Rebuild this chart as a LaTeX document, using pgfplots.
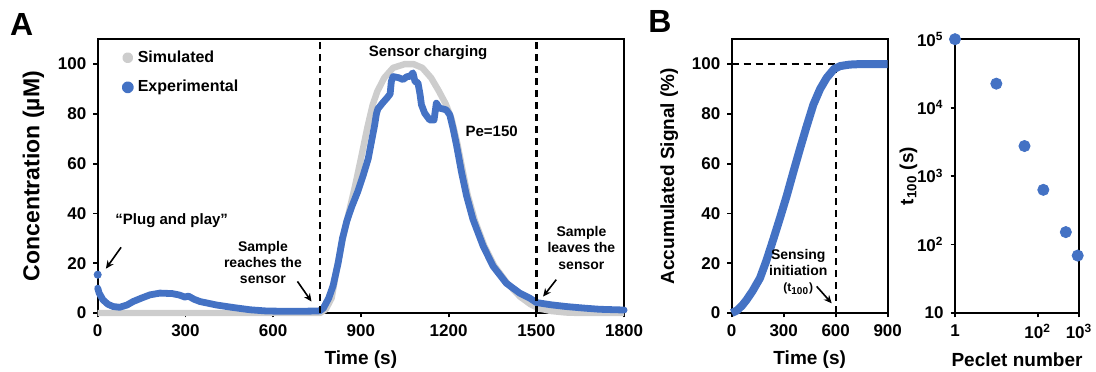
\documentclass[border=0pt]{standalone}
\usepackage{fontspec}
\setmainfont{Liberation Sans}
\usepackage{pgfplots}
\pgfplotsset{compat=1.18}
\usetikzlibrary{arrows.meta}
\definecolor{expblue}{RGB}{68,114,196}
\definecolor{simgray}{RGB}{205,205,205}
\tikzset{ann/.style={font=\bfseries\fontsize{7}{8.2}\selectfont, inner sep=0pt},
 darr/.style={-{Stealth[length=4pt,width=3.6pt]}, line width=0.8pt, black},
 vdash/.style={black, line width=1.2pt, dash pattern=on 3.5pt off 2.5pt}}
\pgfplotsset{
 myax/.style={scale only axis, anchor=south west,
  axis line style={line width=1pt, black},
  tick style={line width=0.9pt, black},
  tick align=outside, major tick length=2.2pt,
  xtick pos=bottom, ytick pos=left, clip=false,
  /pgf/number format/assume math mode=true,
  /pgf/number format/1000 sep={},
  tick label style={font=\bfseries\fontsize{8.5}{10}\selectfont},
  label style={font=\bfseries\fontsize{9.5}{11}\selectfont},
 },
}
\begin{document}
\begin{tikzpicture}
\useasboundingbox (0,0) rectangle (548pt,185.5pt);
% panel labels
\node[font=\bfseries\fontsize{16}{18}\selectfont] at (10.8pt,173.2pt) {A};
\node[font=\bfseries\fontsize{16}{18}\selectfont] at (330pt,174.6pt) {B};
% ---------------- Panel A ----------------
\begin{axis}[myax, at={(48.85pt,29pt)}, width=263.2pt, height=136.9pt,
  xmin=0, xmax=1800, ymin=0, ymax=110,
  xtick={0,300,...,1800}, ytick={0,20,...,100},
  xlabel={Time (s)}, ylabel={Concentration (µM)},
  ylabel style={font=\bfseries\fontsize{11.5}{13}\selectfont},
  legend style={at={(rel axis cs:0.045,0.975)}, anchor=north west, draw=none, fill=none,
    font=\bfseries\fontsize{8}{9.5}\selectfont, row sep=3.5pt, inner sep=0pt},
  legend cell align=left,
  ]
\addplot[simgray, line width=3.2pt, line join=round,
  legend image code/.code={\fill[simgray] (0pt,0pt) circle (1.1pt);}] coordinates {
(0,0)(760,0)(780,1.5)(800,6)(818,18)(840,31)(860,41)(880,51)(900,62)(922,74.5)(940,83.5)(956,89)(980,94.5)(1010,98.5)(1050,100)(1080,100)(1110,98.5)(1140,94.5)(1165,89.5)(1190,84)(1210,78)(1230,68)(1250,56)(1265,47.5)(1290,37)(1322,27)(1356,19)(1400,12)(1445,6.5)(1480,3.5)(1510,1.8)(1550,0.8)(1600,0.2)(1650,0)(1800,0)};
\addlegendentry{Simulated}
\addplot[expblue, line width=3.4pt, line join=round, line cap=round,
  legend image code/.code={\fill[expblue] (0pt,0pt) circle (1.3pt);}] coordinates {
(0,10)(5,8)(18,5.3)(35,3.5)(53,2.6)(75,2.3)(100,3.2)(121,4.6)(150,6)(179,7.3)(213,8)(255,7.8)(280,7.2)(298,6.4)(310,6.8)(330,5.5)(350,4.6)(407,3.2)(464,2.2)(521,1.3)(578,0.8)(640,0.7)(692,0.7)(749,0.8)(760,0.9)(772,2)(790,6)(805,11)(822,20)(837,30)(852,37)(868,42.5)(890,49)(907,55)(925,62)(936,68.8)(947,75.5)(953,80)(958,82)(975,84.5)(990,86.5)(1000,88)(1004,93)(1010,95)(1030,94.5)(1044,93.8)(1058,95)(1067,95)(1078,96.5)(1085,93)(1095,92.5)(1102,88)(1107,83.7)(1118,80.3)(1135,77.6)(1150,77.5)(1158,84.3)(1169,82.3)(1180,82)(1192,81.6)(1204,79.6)(1215,74.2)(1227,67.4)(1244,56.6)(1261,47.2)(1283,37.7)(1318,26.9)(1352,18.8)(1397,12)(1443,8)(1477,6)(1500,4.2)(1550,3.3)(1602,2.6)(1660,2)(1716,1.5)(1800,1.2)};
\addlegendentry{Experimental}
\addplot[only marks, mark=*, mark size=1.8pt, expblue, forget plot] coordinates {(0,15.4)};
\addplot[vdash, forget plot] coordinates {(760,0)(760,110)};
\addplot[vdash, forget plot] coordinates {(1500,0)(1500,110)};
\node[ann, font=\bfseries\fontsize{7.5}{8.5}\selectfont] at (axis cs:253,37) {“Plug and play”};
\draw[darr] (axis cs:80,26.4) -- (axis cs:28,17.8);
\node[ann, align=center] at (axis cs:565,20.3) {Sample\\reaches the\\sensor};
\draw[darr] (axis cs:683,12.7) -- (axis cs:731,4.6);
\node[ann, font=\bfseries\fontsize{7.5}{8.5}\selectfont] at (axis cs:1130,104.6) {Sensor charging};
\node[ann, font=\bfseries\fontsize{7.5}{8.5}\selectfont] at (axis cs:1347,72.9) {Pe=150};
\node[ann, align=center] at (axis cs:1654,26.2) {Sample\\leaves the\\sensor};
\draw[darr] (axis cs:1568,13.4) -- (axis cs:1523,6.6);
\end{axis}
% ---------------- Panel B1 ----------------
\begin{axis}[myax, at={(365.85pt,29pt)}, width=78pt, height=136.9pt,
  xmin=0, xmax=900, ymin=0, ymax=110,
  xtick={0,300,600,900}, ytick={0,20,...,100},
  xlabel={Time (s)}, ylabel={Accumulated Signal (\%)},
  ]
\addplot[black, line width=1.2pt, dash pattern=on 3.5pt off 2.5pt] coordinates {(0,100)(600,100)};
\addplot[vdash] coordinates {(600,0)(600,100)};
\addplot[expblue, line width=4pt, line join=round] coordinates {
(0,0)(30,1)(60,3)(86,5.3)(120,8.8)(163,14)(200,21)(240,29.6)(280,38.5)(317,47)(355,56.5)(394,66)(430,74.5)(471,83.7)(510,90)(548,94.5)(590,98)(625,99.2)(680,99.8)(740,100)(900,100)};
\node[ann, align=center] at (axis cs:384,16.5) {Sensing\\initiation\\{\fontsize{6}{7}\selectfont(t\textsubscript{100})}};
\draw[darr] (axis cs:490,10.7) -- (axis cs:577,3.9);
\end{axis}
% ---------------- Panel B2 ----------------
\begin{axis}[myax, at={(477.5pt,29pt)}, width=62pt, height=136.9pt,
  xmode=log, ymode=log, xmin=1, xmax=1000, ymin=10, ymax=100000,
  xtick={1,100,1000}, xticklabels={1,10\textsuperscript{2},10\textsuperscript{3}},
  ytick={10,100,1000,10000,100000},
  yticklabels={10,10\textsuperscript{2},10\textsuperscript{3},10\textsuperscript{4},10\textsuperscript{5}},
  minor tick num=0, xminorticks=false, yminorticks=false,
  xlabel={Peclet number}, ylabel={t\textsubscript{100} (s)}, ylabel shift=-7pt,
  ]
\addplot[only marks, mark=*, mark size=2.8pt, expblue] coordinates {
(1,100000)(10,22400)(48,2750)(137,630)(480,152)(930,69)};
\end{axis}
\end{tikzpicture}
\end{document}
